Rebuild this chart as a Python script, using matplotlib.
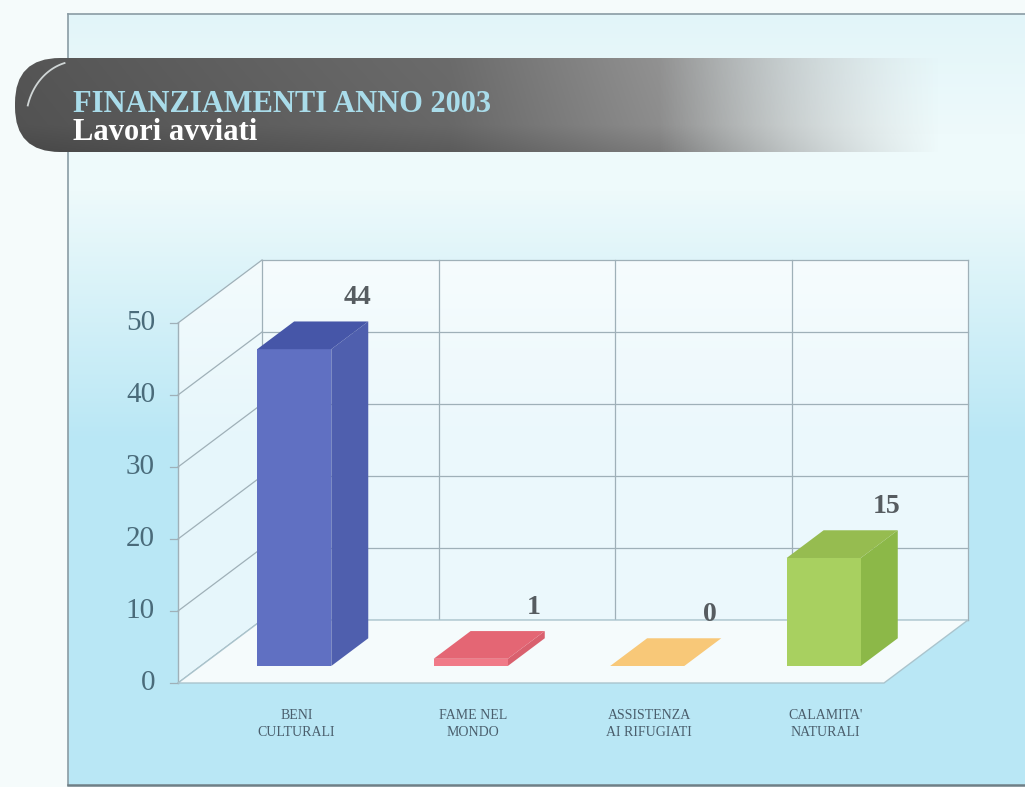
import numpy as np
import matplotlib
matplotlib.use('Agg')
import matplotlib.pyplot as plt
from matplotlib.patches import Polygon, FancyBboxPatch
from matplotlib.colors import to_rgb

# ---------------- data ----------------
categories = ["BENI\nCULTURALI", "FAME NEL\nMONDO", "ASSISTENZA\nAI RIFUGIATI", "CALAMITA'\nNATURALI"]
values = [44, 1, 0, 15]
y_ticks = [0, 10, 20, 30, 40, 50]
title = "FINANZIAMENTI ANNO 2003"
subtitle = "Lavori avviati"

front_colors = ['#6070c2', '#f07a88', '#f8c878', '#a8d060']
side_colors = ['#4f5fae', '#d9606e', '#e8b060', '#8cb848']
top_colors = ['#4656a8', '#e46674', '#f8c878', '#96bc50']

SERIF = ['Liberation Serif', 'DejaVu Serif']

W, H = 1025, 787
fig = plt.figure(figsize=(W / 100, H / 100), dpi=100)

# ---------------- background layer (pixel coords) ----------------
bg = fig.add_axes([0, 0, 1, 1], zorder=0)
bg.set_xlim(0, W)
bg.set_ylim(H, 0)
bg.axis('off')

yy, xx = np.mgrid[0:H, 0:W].astype(float)
c_out = np.array(to_rgb('#f5fbfb'))
c_top = np.array(to_rgb('#e2f5f9'))
c_mid = np.array(to_rgb('#eefafb'))
c_bot = np.array(to_rgb('#b9e7f5'))
t1 = np.clip((yy - 14) / 120, 0, 1)[..., None]
t2 = np.clip((yy - 190) / 250, 0, 1)[..., None]
inside = c_top * (1 - t1) + c_mid * t1
inside = inside * (1 - t2) + c_bot * t2
mask = ((xx >= 68) & (yy >= 14) & (yy <= 785))[..., None]
img = np.where(mask, inside, c_out)
bg.imshow(img, extent=(0, W, H, 0), aspect='auto', zorder=0, interpolation='bilinear')

# frame lines
bg.plot([68, W], [14, 14], color='#8a9ca4', lw=1.2, zorder=1)
bg.plot([68, 68], [14, 785], color='#8a9ca4', lw=1.2, zorder=1)
bg.plot([68, W], [785, 785], color='#6f7f86', lw=1.8, zorder=1)

# title banner with fading gradient
banner = FancyBboxPatch((15, 58), 960, 94, boxstyle='round,pad=0,rounding_size=45',
                        transform=bg.transData, facecolor='none', edgecolor='none')
bg.add_patch(banner)
bx = np.linspace(0, W, W)
gray = np.interp(bx, [0, 450, 700, 950], [0.33, 0.42, 0.60, 0.82])
alpha = np.interp(bx, [0, 660, 940], [1.0, 1.0, 0.0])
by = np.linspace(58, 152, 95)
shade = np.interp(by, [58, 125, 152], [1.0, 0.97, 0.85])
rgba = np.zeros((len(by), W, 4))
rgba[..., 0] = gray[None, :] * shade[:, None]
rgba[..., 1] = gray[None, :] * shade[:, None]
rgba[..., 2] = gray[None, :] * shade[:, None]
rgba[..., 3] = alpha[None, :]
im = bg.imshow(rgba, extent=(0, W, 152, 58), aspect='auto', zorder=2, interpolation='bilinear')
im.set_clip_path(banner)
# light rim at the left of banner
th = np.linspace(np.deg2rad(105), np.deg2rad(165), 50)
bg.plot(78 + 52 * np.cos(th), 121 - 60 * np.sin(th), color='#d0d6d6', lw=1.3, zorder=3)

bg.text(73, 112, title, fontsize=22, fontweight='bold', color='#a9dcea',
        family=SERIF, va='baseline', ha='left', zorder=4)
bg.text(73, 140, subtitle, fontsize=22, fontweight='bold', color='#ffffff',
        family=SERIF, va='baseline', ha='left', zorder=4)

# ---------------- chart layer (data coords) ----------------
ax = fig.add_axes([0, 0, 1, 1], zorder=2)
ax.patch.set_alpha(0)
ax.axis('off')
px0, py0, sx, sy = 178, 683, 176.5, 7.2
ax.set_xlim(-px0 / sx, (W - px0) / sx)
ax.set_ylim((py0 - H) / sy, py0 / sy)

n = len(categories)
ymax = y_ticks[-1]
DX, DY = 0.476, 8.75
grid_c = '#9fb0b8'

ax.add_patch(Polygon([(0, 0), (DX, DY), (DX, DY + ymax), (0, ymax)], closed=True,
                     facecolor='white', alpha=0.65, edgecolor='none', zorder=1))
ax.add_patch(Polygon([(DX, DY), (n + DX, DY), (n + DX, DY + ymax), (DX, DY + ymax)], closed=True,
                     facecolor='white', alpha=0.72, edgecolor='none', zorder=1))
ax.add_patch(Polygon([(0, 0), (n, 0), (n + DX, DY), (DX, DY)], closed=True,
                     facecolor='#f8fcfd', alpha=0.97, edgecolor='#a9c3cc', lw=1.0, zorder=2))

for v in y_ticks:
    ax.plot([DX, n + DX], [DY + v, DY + v], color=grid_c, lw=0.9, zorder=1.5)
    ax.plot([0, DX], [v, DY + v], color=grid_c, lw=0.9, zorder=1.5)
    ax.plot([-0.045, 0], [v, v], color=grid_c, lw=0.9, zorder=1.5)
    ax.text(-0.13, v, str(v), fontsize=21, color='#4a6b7a', family=SERIF,
            ha='right', va='center', zorder=3)
for k in range(n + 1):
    ax.plot([DX + k, DX + k], [DY, DY + ymax], color=grid_c, lw=0.9, zorder=1.5)
ax.plot([0, 0], [0, ymax], color=grid_c, lw=1.0, zorder=1.5)

# bars
d0, d1, w, off = 0.27, 0.71, 0.42, 0.03
ddx, ddy = (d1 - d0) * DX, (d1 - d0) * DY
for i, v in enumerate(values):
    xf = i + 0.5 + d0 * DX + off - w / 2
    yf = d0 * DY
    if v > 0:
        ax.add_patch(Polygon([(xf + w, yf), (xf + w + ddx, yf + ddy), (xf + w + ddx, yf + ddy + v), (xf + w, yf + v)],
                             closed=True, facecolor=side_colors[i], edgecolor='none', zorder=4))
        ax.add_patch(Polygon([(xf, yf), (xf + w, yf), (xf + w, yf + v), (xf, yf + v)],
                             closed=True, facecolor=front_colors[i], edgecolor='none', zorder=5))
    ax.add_patch(Polygon([(xf, yf + v), (xf + w, yf + v), (xf + w + ddx, yf + ddy + v), (xf + ddx, yf + ddy + v)],
                         closed=True, facecolor=top_colors[i], edgecolor='none', zorder=5))
    ax.text(xf + w / 2 + 0.357, yf + ddy + v + 3.3, str(v), fontsize=20, fontweight='bold',
            color='#565c60', family=SERIF, ha='center', va='center', zorder=6)
    ax.text(i + 0.5 + 0.17, -5.7, categories[i], fontsize=10, color='#4a5e6c', family=SERIF,
            ha='center', va='center', linespacing=1.45, zorder=6)

fig.savefig('out.png', dpi=100)
